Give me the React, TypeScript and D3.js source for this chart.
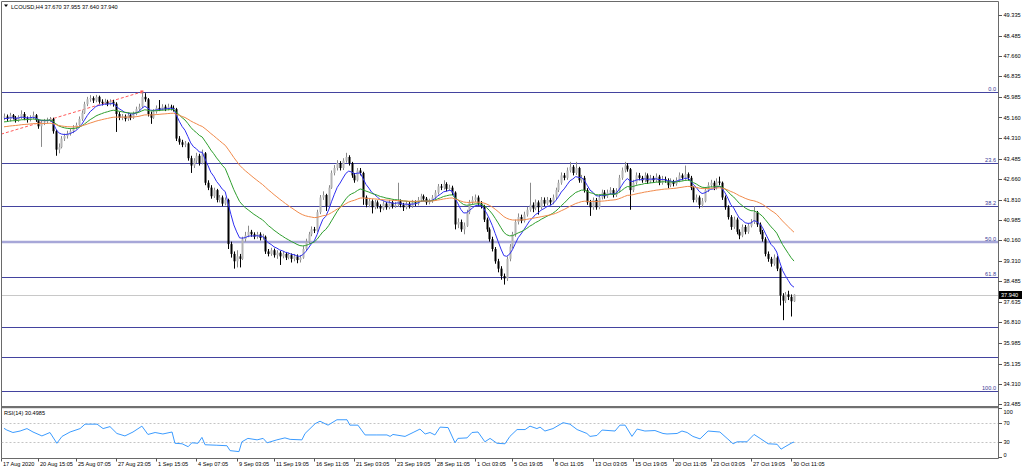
import React from "react";
import * as d3 from "d3";

const W = 1024;
const H = 471;

// ---- Candle data (LCOUSD H4) ----
const OPEN = [
  45.15,45.20,45.10,45.25,45.15,45.05,45.18,45.30,45.12,45.08,
  45.15,45.25,45.05,44.80,44.95,45.00,45.05,45.10,44.60,43.85,
  43.95,44.30,44.40,44.50,44.60,44.75,44.85,45.10,45.35,45.70,
  45.90,45.95,45.85,46.00,45.80,45.75,45.80,45.70,45.80,45.72,
  45.30,45.15,45.20,45.10,45.25,45.15,45.30,45.50,45.60,46.00,
  45.90,45.30,45.15,45.40,45.55,45.50,45.60,45.50,45.60,45.55,
  45.50,44.30,44.15,44.05,44.10,43.50,43.20,43.40,43.60,43.30,
  43.70,42.50,42.30,41.95,42.20,41.80,41.90,41.65,41.80,40.00,
  39.60,39.30,39.50,39.40,40.20,40.35,40.50,40.40,40.30,40.40,
  40.25,40.30,39.70,39.60,39.75,39.55,39.65,39.50,39.60,39.45,
  39.55,39.40,39.50,39.35,39.45,39.80,40.10,40.40,40.60,40.55,
  41.30,41.90,42.00,41.55,42.30,42.90,43.10,43.30,43.10,43.40,
  43.55,43.30,42.80,42.60,43.00,42.90,41.90,41.60,41.75,41.50,
  41.70,41.55,41.45,41.65,41.50,41.70,41.55,41.60,41.75,41.60,
  41.50,41.65,41.55,41.70,41.65,41.80,41.95,41.85,41.70,41.75,
  41.90,42.10,42.35,42.30,42.45,42.25,42.30,42.10,40.80,40.90,
  40.60,40.75,41.30,41.70,41.80,41.90,41.65,41.55,41.00,40.60,
  40.20,39.80,39.30,39.00,38.70,38.60,39.40,39.90,40.40,40.90,
  41.10,40.95,41.20,41.40,41.60,41.45,41.70,41.50,41.80,41.65,
  41.80,41.70,41.90,42.20,42.50,42.80,42.70,43.00,43.15,42.90,
  43.10,42.60,42.70,42.20,41.70,41.50,41.80,41.50,41.90,42.10,
  41.95,42.10,42.20,42.00,42.15,42.70,43.00,43.20,43.05,42.20,
  42.50,42.80,42.70,42.60,42.80,42.55,42.70,42.60,42.75,42.50,
  42.65,42.60,42.40,42.55,42.45,42.60,42.80,42.70,42.85,42.70,
  42.30,41.80,41.90,41.60,41.75,42.20,42.40,42.50,42.30,42.55,
  42.50,41.90,41.50,41.10,40.70,41.00,40.50,40.35,40.70,40.50,
  40.75,40.90,41.30,40.80,40.50,40.20,39.60,39.40,39.20,39.45,
  39.00,37.90,37.70,37.95,37.85,37.67,
];

const HIGH = [
  45.32,45.28,45.35,45.30,45.22,45.25,45.45,45.38,45.20,45.25,
  45.40,45.30,45.10,45.05,45.10,45.15,45.18,45.15,44.65,44.10,
  44.40,44.50,44.62,44.70,44.85,44.95,45.20,45.45,45.80,46.00,
  46.07,46.02,46.08,46.05,45.90,45.92,45.88,45.90,45.88,45.78,
  45.38,45.30,45.28,45.35,45.32,45.40,45.60,45.72,46.20,46.15,
  45.95,45.40,45.50,45.65,45.87,45.70,45.68,45.72,45.68,45.65,
  45.55,44.40,44.25,44.20,44.15,43.60,43.50,43.72,43.68,43.85,
  43.75,42.60,42.40,42.30,42.25,42.00,41.98,41.90,41.85,40.10,
  39.70,39.75,39.60,40.30,40.50,40.75,40.58,40.48,40.50,40.48,
  40.42,40.35,39.80,39.85,39.82,39.75,39.72,39.70,39.68,39.65,
  39.62,39.60,39.58,39.55,39.92,40.22,40.50,40.72,40.70,41.40,
  42.00,42.15,42.05,42.40,43.00,43.22,43.42,43.38,43.50,43.72,
  43.62,43.35,42.90,43.10,43.10,42.95,41.98,41.88,41.82,41.80,
  41.78,41.62,41.75,41.72,41.80,41.78,41.72,42.50,41.82,41.68,
  41.75,41.72,41.80,41.78,41.92,42.05,42.02,41.92,41.85,42.00,
  42.20,42.45,42.45,42.60,42.52,42.42,42.38,42.15,41.05,41.00,
  40.88,41.40,41.80,41.95,42.02,41.98,41.75,41.60,41.08,40.68,
  40.30,39.88,39.40,39.10,38.80,39.50,40.00,40.50,41.00,41.25,
  41.20,41.32,41.52,42.50,41.70,41.82,41.78,41.92,41.90,41.92,
  41.88,42.02,42.30,42.62,42.92,42.90,43.12,43.35,43.22,43.35,
  43.15,42.82,42.78,42.28,41.80,41.90,41.88,42.02,42.22,42.20,
  42.22,42.32,42.28,42.28,42.82,43.12,43.35,43.30,43.10,42.62,
  42.92,42.90,42.78,42.92,42.88,42.82,42.78,42.88,42.82,42.78,
  42.75,42.68,42.68,42.62,42.72,42.92,42.88,43.20,42.92,42.78,
  42.35,42.02,41.98,41.88,42.30,42.52,42.62,42.58,42.68,42.75,
  42.55,41.98,41.58,41.18,41.12,41.08,40.60,40.80,40.78,40.85,
  41.02,41.55,41.35,40.88,40.58,40.28,39.70,39.48,39.58,39.52,
  39.05,38.00,38.05,38.10,37.95,37.955,
];

const LOW = [
  45.05,45.02,45.00,45.08,44.95,44.98,45.10,45.05,44.95,45.00,
  45.10,44.98,44.70,43.96,44.85,44.92,44.98,44.50,43.60,43.70,
  43.90,44.20,44.30,44.42,44.52,44.68,44.78,45.02,45.30,45.62,
  45.80,45.75,45.78,45.72,45.65,45.68,45.62,45.65,45.60,44.57,
  45.05,45.05,45.00,45.02,45.05,45.10,45.25,45.42,45.55,45.80,
  45.20,44.90,45.10,45.32,45.42,45.45,45.42,45.45,45.45,45.40,
  44.20,44.05,43.95,43.95,43.40,42.90,43.10,43.30,43.20,43.25,
  42.40,42.20,41.85,41.88,41.70,41.70,41.55,41.58,39.80,39.45,
  39.00,39.05,39.05,39.35,40.10,40.28,40.30,40.20,40.22,40.15,
  40.18,39.60,39.50,39.52,39.45,39.40,39.15,39.42,39.35,39.38,
  39.25,39.30,39.22,39.25,39.40,39.72,40.02,40.32,40.45,40.50,
  41.22,41.80,41.35,41.50,42.25,42.80,43.00,43.00,43.02,43.32,
  43.20,42.70,42.50,42.55,42.80,41.60,41.50,41.50,41.25,41.42,
  41.45,41.30,41.38,41.40,41.42,41.45,41.48,41.52,41.50,41.35,
  41.42,41.45,41.48,41.55,41.58,41.72,41.75,41.60,41.62,41.68,
  41.82,42.02,42.20,42.22,42.15,42.18,42.00,40.60,40.65,40.50,
  40.40,40.70,41.22,41.62,41.72,41.55,41.45,40.90,40.50,40.10,
  39.70,39.20,38.85,38.55,38.35,38.50,39.30,39.82,40.30,40.80,
  40.85,40.88,41.12,41.32,41.30,41.38,41.20,41.42,41.55,41.58,
  41.60,41.62,41.82,42.12,42.42,42.60,42.62,42.92,42.80,42.82,
  42.50,42.50,42.10,41.60,41.15,41.40,41.40,41.42,41.82,41.85,
  41.88,42.02,41.90,41.92,42.10,42.62,42.92,42.95,41.40,42.12,
  42.42,42.60,42.50,42.52,42.45,42.48,42.50,42.52,42.40,42.42,
  42.50,42.28,42.32,42.35,42.38,42.52,42.60,42.62,42.60,42.20,
  41.70,41.70,41.45,41.50,41.70,42.12,42.32,42.20,42.22,42.40,
  41.80,41.40,41.00,40.58,40.62,40.40,40.20,40.28,40.40,40.42,
  40.68,40.82,40.70,40.40,40.10,39.50,39.28,39.08,39.12,38.90,
  37.50,36.90,37.60,37.72,37.05,37.64,
];

const CLOSE = [
  45.20,45.10,45.25,45.15,45.05,45.18,45.30,45.12,45.08,45.15,
  45.25,45.05,44.80,44.95,45.00,45.05,45.10,44.60,43.85,43.95,
  44.30,44.40,44.50,44.60,44.75,44.85,45.10,45.35,45.70,45.90,
  45.95,45.85,46.00,45.80,45.75,45.80,45.70,45.80,45.72,45.30,
  45.15,45.20,45.10,45.25,45.15,45.30,45.50,45.60,46.00,45.90,
  45.30,45.15,45.40,45.55,45.50,45.60,45.50,45.60,45.55,45.50,
  44.30,44.15,44.05,44.10,43.50,43.20,43.40,43.60,43.30,43.70,
  42.50,42.30,41.95,42.20,41.80,41.90,41.65,41.80,40.00,39.60,
  39.30,39.50,39.40,40.20,40.35,40.50,40.40,40.30,40.40,40.25,
  40.30,39.70,39.60,39.75,39.55,39.65,39.50,39.60,39.45,39.55,
  39.40,39.50,39.35,39.45,39.80,40.10,40.40,40.60,40.55,41.30,
  41.90,42.00,41.55,42.30,42.90,43.10,43.30,43.10,43.40,43.55,
  43.30,42.80,42.60,43.00,42.90,41.90,41.60,41.75,41.50,41.70,
  41.55,41.45,41.65,41.50,41.70,41.55,41.60,41.75,41.60,41.50,
  41.65,41.55,41.70,41.65,41.80,41.95,41.85,41.70,41.75,41.90,
  42.10,42.35,42.30,42.45,42.25,42.30,42.10,40.80,40.90,40.60,
  40.75,41.30,41.70,41.80,41.90,41.65,41.55,41.00,40.60,40.20,
  39.80,39.30,39.00,38.70,38.60,39.40,39.90,40.40,40.90,41.10,
  40.95,41.20,41.40,41.60,41.45,41.70,41.50,41.80,41.65,41.80,
  41.70,41.90,42.20,42.50,42.80,42.70,43.00,43.15,42.90,43.10,
  42.60,42.70,42.20,41.70,41.50,41.80,41.50,41.90,42.10,41.95,
  42.10,42.20,42.00,42.15,42.70,43.00,43.20,43.05,42.20,42.50,
  42.80,42.70,42.60,42.80,42.55,42.70,42.60,42.75,42.50,42.65,
  42.60,42.40,42.55,42.45,42.60,42.80,42.70,42.85,42.70,42.30,
  41.80,41.90,41.60,41.75,42.20,42.40,42.50,42.30,42.55,42.50,
  41.90,41.50,41.10,40.70,41.00,40.50,40.35,40.70,40.50,40.75,
  40.90,41.30,40.80,40.50,40.20,39.60,39.40,39.20,39.45,39.00,
  37.90,37.70,37.95,37.85,37.67,37.94,
];

// Moving averages: periods and their values at the first visible bar
const MA_PERIODS = [8, 21, 50];
const MA_START = [45.12, 44.98, 44.78];
const MA_COLORS = ["#2f2ff0", "#2e9e2e", "#f08a4b"];

// Price axis tick labels
const PRICE_TICKS = [
  49.335, 48.485, 47.66, 46.835, 45.985, 45.16, 44.31, 43.485, 42.66, 41.81,
  40.985, 40.16, 39.31, 38.485, 37.635, 36.81, 35.985, 35.135, 34.31, 33.485,
];

// Fibonacci retracement
const FIB_HIGH = 46.2;
const FIB_LOW = 34.01;
const FIB_LEVELS = [0, 23.6, 38.2, 50, 61.8, 78.6, 88.6, 100];
const FIB_TEXT = ["0.0", "23.6", "38.2", "50.0", "61.8", "", "", "100.0"];

// Trend line (bar index, price)
const TREND_BARS = [-1, 48];
const TREND_PRICES = [44.48, 46.2];

// RSI(14) values read at bar positions
const RSI_BARS = [
  0, 1, 3.1, 5.6, 8, 10.1, 13.2, 16, 18.4, 20.2, 23, 26.5, 28.2, 32.4, 34.5, 36.9,
  39.3, 42.1, 44.9, 48, 50.1, 52.6, 55.3, 58.5, 59.5, 62, 64.1, 65.4, 67.5, 68.9,
  70, 74.1, 77.6, 78.7, 81.8, 82.8, 84.9, 88.1, 90.2, 91.6, 95, 97.8, 99.6, 103.7,
  104.8, 108.3, 110, 112.8, 115.9, 119.4, 120.4, 123.2, 125.7, 129.8, 133.3, 134.4,
  135.4, 139.6, 142.4, 144.8, 146.6, 148.3, 150, 151.8, 154.6, 157, 158, 161.2,
  162.9, 165, 167.4, 169.2, 171.6, 174.4, 176.1, 178.6, 181.4, 183.1, 185.5, 186.6,
  188.3, 191.1, 194.6, 197, 199.5, 202.9, 204, 206.4, 208.2, 212.7, 214.4, 216.2,
  218.6, 220.4, 223.1, 226.6, 229.4, 230.8, 234.3, 236, 237.8, 239.8, 242.3, 245.1,
  249.2, 251.7, 253.8, 255.2, 258.6, 261.1, 263.2, 266, 269.1, 270.5, 272.2, 274.3, 275,
];
const RSI_VALUES = [
  58.5, 55, 50, 53, 58, 51, 43, 50, 28, 42, 51, 58, 67, 67, 58, 62,
  48, 43, 51, 63, 46, 50, 47, 51, 28, 27, 21, 29, 28, 40,
  25, 24, 23, 13, 11, 31, 38, 35, 38, 29, 35, 39, 36, 35,
  48, 68, 73, 65, 76, 76, 65, 65, 45, 45, 45, 42,
  46, 42, 50, 57, 47, 50, 45, 61, 60, 29, 38, 39,
  50, 51, 31, 38, 28, 27, 42, 56, 56, 63, 58, 61,
  53, 58, 70, 67, 56, 48, 42, 44, 55, 53, 65, 65,
  42, 57, 53, 54, 48, 47, 48, 53, 50, 42, 37, 53,
  51, 38, 27, 31, 31, 46, 38, 27, 26, 16, 22, 29, 30.5,
];
const RSI_LEVELS = [70, 30];
const RSI_AXIS = [100, 70, 30, 0];

// Time axis labels
const DATE_LABELS = [
  "17 Aug 2020", "20 Aug 15:05", "25 Aug 07:05", "27 Aug 23:05", "1 Sep 15:05",
  "4 Sep 07:05", "9 Sep 03:05", "11 Sep 19:05", "16 Sep 11:05", "21 Sep 03:05",
  "23 Sep 19:05", "28 Sep 11:05", "1 Oct 03:05", "5 Oct 19:05", "8 Oct 11:05",
  "13 Oct 03:05", "15 Oct 19:05", "20 Oct 11:05", "23 Oct 03:05", "27 Oct 19:05",
  "30 Oct 11:05",
];
const DATE_BARS = [0, 13, 26, 40, 54, 68, 82, 95, 109, 123, 137, 151, 165, 178, 192, 206, 220, 234, 247, 261, 275];

const TITLE = "LCOUSD,H4  37.670 37.955 37.640 37.940";
const RSI_TITLE = "RSI(14) 30.4985";
const LAST_PRICE = 37.94;

const FONT = "'Liberation Sans', Arial, sans-serif";
const FS = 5.6;

function ema(values: number[], period: number, seed: number): number[] {
  const a = 2 / (period + 1);
  const out: number[] = [];
  let prev = seed;
  values.forEach((v, i) => {
    if (i > 0) prev = prev + a * (v - prev);
    out.push(prev);
  });
  return out;
}

export default function App() {
  const n = CLOSE.length;
  const x = d3.scaleLinear().domain([0, n - 1]).range([4, 794]);
  const y = d3.scaleLinear().domain([33.485, 49.335]).range([404, 15]);
  const yr = d3.scaleLinear().domain([0, 100]).range([457, 408]);

  const mainLeft = 1.5, mainRight = 998.5, mainTop = 1.5, mainBottom = 406;
  const rsiTop = 408.5, rsiBottom = 458.5;

  const maLine = d3
    .line<number>()
    .x((_, i) => x(i))
    .y((d) => y(d));
  const mas = MA_PERIODS.map((p, k) => ema(CLOSE, p, MA_START[k]));

  const rsiLine = d3
    .line<number>()
    .x((_, i) => x(RSI_BARS[i]))
    .y((d) => yr(d));

  const crisp = (v: number) => Math.round(v) + 0.5;

  return (
    <div style={{ position: "absolute", left: 0, top: 0, width: W, height: H, background: "#fff" }}>
      <svg width={W} height={H} style={{ display: "block", fontFamily: FONT }}>
        <rect x={0} y={0} width={W} height={H} fill="#ffffff" />
        <defs>
          <clipPath id="mainClip">
            <rect x={mainLeft} y={mainTop} width={mainRight - mainLeft} height={mainBottom - mainTop} />
          </clipPath>
          <clipPath id="rsiClip">
            <rect x={mainLeft} y={rsiTop} width={mainRight - mainLeft} height={rsiBottom - rsiTop} />
          </clipPath>
        </defs>

        {/* Fibonacci levels */}
        <g clipPath="url(#mainClip)">
          {FIB_LEVELS.map((lv, k) => {
            const price = FIB_HIGH - (lv / 100) * (FIB_HIGH - FIB_LOW);
            const yy = crisp(y(price));
            const is50 = lv === 50;
            return (
              <line
                key={"fib" + k}
                x1={mainLeft}
                x2={mainRight}
                y1={is50 ? Math.round(y(price)) : yy}
                y2={is50 ? Math.round(y(price)) : yy}
                stroke={is50 ? "#a7a7d8" : "#43439f"}
                strokeWidth={is50 ? 2.5 : 1}
              />
            );
          })}
          {/* last price line */}
          <line
            x1={mainLeft}
            x2={mainRight}
            y1={crisp(y(LAST_PRICE))}
            y2={crisp(y(LAST_PRICE))}
            stroke="#c8c8c8"
            strokeWidth={1}
          />
          {/* trend line */}
          <line
            x1={x(TREND_BARS[0])}
            y1={y(TREND_PRICES[0])}
            x2={x(TREND_BARS[1])}
            y2={y(TREND_PRICES[1])}
            stroke="#ff5a5a"
            strokeWidth={1}
            strokeDasharray="3,2"
          />
          <rect x={x(TREND_BARS[1]) - 1.5} y={y(TREND_PRICES[1]) - 1.5} width={3} height={3} fill="#ff5a5a" />

          {/* candles */}
          {CLOSE.map((c, i) => {
            const o = OPEN[i];
            const cx = Math.round(x(i));
            const bull = c >= o;
            const top = y(Math.max(o, c));
            const bot = y(Math.min(o, c));
            const color = bull ? "#8a8a8a" : "#000000";
            return (
              <g key={"c" + i}>
                <line
                  x1={cx + 0.5}
                  x2={cx + 0.5}
                  y1={y(HIGH[i])}
                  y2={y(LOW[i])}
                  stroke={color}
                  strokeWidth={1}
                />
                <rect
                  x={cx - 0.5}
                  y={top}
                  width={2}
                  height={Math.max(1, bot - top)}
                  fill={bull ? "#b4b4b4" : "#000"}
                />
              </g>
            );
          })}

          {/* moving averages */}
          {mas.map((vals, k) => (
            <path key={"ma" + k} d={maLine(vals) || ""} fill="none" stroke={MA_COLORS[k]} strokeWidth={1} />
          ))}
        </g>

        {/* fib labels */}
        {FIB_LEVELS.map((lv, k) =>
          FIB_TEXT[k] ? (
            <text
              key={"fl" + k}
              x={996}
              y={Math.round(y(FIB_HIGH - (lv / 100) * (FIB_HIGH - FIB_LOW))) - 1.5}
              fontSize={FS}
              textAnchor="end"
              fill="#3a3a96"
            >
              {FIB_TEXT[k]}
            </text>
          ) : null
        )}

        {/* title */}
        <path d="M4,4.5 L8,4.5 L6,7 Z" fill="#000" />
        <text x={11} y={8.5} fontSize={FS} fill="#000">
          {TITLE}
        </text>

        {/* main frame */}
        <line x1={mainLeft} x2={mainRight} y1={mainTop} y2={mainTop} stroke="#6a6a6a" />
        <line x1={mainLeft} x2={mainLeft} y1={mainTop} y2={rsiBottom} stroke="#6a6a6a" />
        <line x1={mainRight} x2={mainRight} y1={mainTop} y2={rsiBottom} stroke="#6a6a6a" />
        <rect x={mainLeft} y={406} width={mainRight - mainLeft} height={2.2} fill="#707070" />
        <line x1={mainLeft} x2={mainRight} y1={rsiBottom} y2={rsiBottom} stroke="#6a6a6a" />

        {/* price axis */}
        {PRICE_TICKS.map((p, k) => (
          <g key={"pt" + k}>
            <line x1={998.5} x2={1002} y1={crisp(y(p))} y2={crisp(y(p))} stroke="#555" />
            <text x={1003.5} y={y(p) + 2.1} fontSize={FS} fill="#000">
              {p.toFixed(3)}
            </text>
          </g>
        ))}
        {/* last price box */}
        <rect x={999} y={Math.round(y(LAST_PRICE)) - 4} width={23} height={8} fill="#000" />
        <text x={1001} y={Math.round(y(LAST_PRICE)) + 2.1} fontSize={FS} fill="#fff">
          {LAST_PRICE.toFixed(3)}
        </text>

        {/* RSI panel */}
        <g clipPath="url(#rsiClip)">
          {RSI_LEVELS.map((lv, k) => (
            <line
              key={"rl" + k}
              x1={mainLeft}
              x2={mainRight}
              y1={crisp(yr(lv))}
              y2={crisp(yr(lv))}
              stroke="#c4c4c4"
              strokeDasharray="2,2"
            />
          ))}
          <path d={rsiLine(RSI_VALUES) || ""} fill="none" stroke="#3b9bff" strokeWidth={1} />
        </g>
        <text x={4} y={415} fontSize={FS} fill="#000">
          {RSI_TITLE}
        </text>
        {RSI_AXIS.map((lv, k) => {
          const yy = yr(lv);
          const ty = lv === 100 ? yy + 6 : lv === 0 ? yy - 0.5 : yy + 2.1;
          return (
            <g key={"ra" + k}>
              <line x1={998.5} x2={1002} y1={crisp(yy)} y2={crisp(yy)} stroke="#555" />
              <text x={1003.5} y={ty} fontSize={FS} fill="#000">
                {lv}
              </text>
            </g>
          );
        })}

        {/* time axis */}
        {DATE_BARS.map((b, k) => {
          const xx = Math.round(x(b)) - 2.5;
          return (
            <g key={"d" + k}>
              <line x1={xx} x2={xx} y1={rsiBottom} y2={rsiBottom + 3} stroke="#555" />
              <text x={xx + 1.5} y={466} fontSize={FS} fill="#000">
                {DATE_LABELS[k]}
              </text>
            </g>
          );
        })}
      </svg>
    </div>
  );
}
